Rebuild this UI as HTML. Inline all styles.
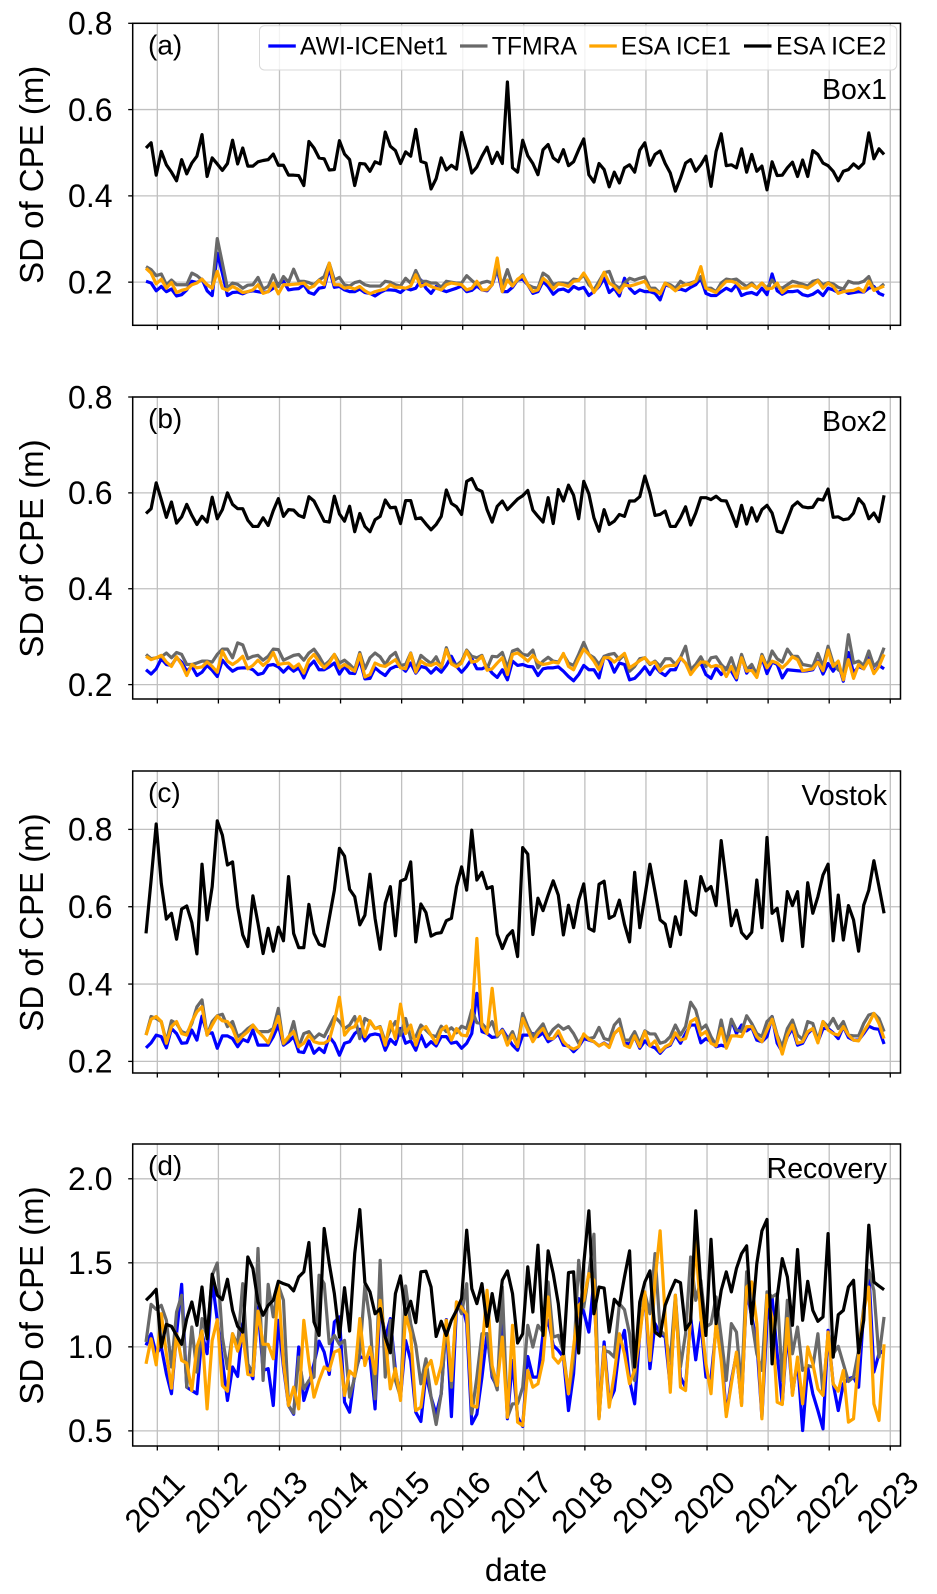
<!DOCTYPE html>
<html lang="en">
<head>
<meta charset="utf-8">
<title>SD of CPE time series</title>
<style>
html,body{margin:0;padding:0;background:#fff;}
svg{display:block;font-family:"Liberation Sans",Arial,sans-serif;}
</style>
</head>
<body>
<svg id="chart" xmlns="http://www.w3.org/2000/svg" width="937" height="1594" viewBox="0 0 937 1594"></svg>
<script>
const xTickLabels = [2011,2012,2013,2014,2015,2016,2017,2018,2019,2020,2021,2022,2023];
const firstMonthYear = 2010.815;
const yTicksA = [0.2,0.4,0.6,0.8];
const yTicksB = [0.2,0.4,0.6,0.8];
const yTicksC = [0.2,0.4,0.6,0.8];
const yTicksD = [0.5,1.0,1.5,2.0];

const boxOneAwi = [.202,.198,.180,.190,.178,.184,.168,.171,.182,.202,.199,.207,.180,.169,.267,.221,.169,.176,.177,.173,.178,.180,.178,.176,.178,.186,.196,.202,.182,.184,.185,.194,.176,.172,.186,.188,.232,.188,.190,.182,.178,.178,.184,.176,.174,.168,.176,.182,.182,.181,.176,.186,.182,.186,.205,.186,.174,.190,.182,.178,.182,.186,.191,.178,.181,.191,.182,.180,.194,.230,.178,.178,.188,.205,.207,.194,.174,.178,.202,.190,.172,.182,.184,.178,.190,.184,.188,.169,.178,.190,.209,.176,.186,.168,.209,.186,.174,.182,.178,.178,.174,.159,.194,.190,.182,.184,.180,.188,.194,.209,.174,.169,.169,.178,.186,.180,.194,.169,.174,.176,.171,.186,.171,.219,.180,.172,.178,.178,.180,.171,.168,.172,.180,.169,.186,.182,.176,.182,.174,.176,.178,.177,.186,.190,.174,.169];
const boxOneTfmra = [.236,.229,.215,.219,.194,.205,.194,.194,.194,.221,.215,.205,.194,.186,.301,.244,.186,.198,.195,.186,.193,.194,.211,.184,.190,.217,.190,.213,.200,.230,.202,.202,.199,.194,.205,.213,.244,.205,.211,.194,.191,.199,.202,.194,.191,.191,.191,.202,.200,.194,.191,.209,.198,.227,.202,.202,.198,.198,.188,.202,.200,.198,.198,.215,.204,.194,.199,.202,.198,.229,.194,.229,.194,.204,.217,.194,.188,.186,.221,.213,.194,.198,.198,.196,.207,.205,.217,.194,.182,.202,.222,.225,.194,.186,.198,.209,.205,.209,.212,.186,.186,.174,.198,.194,.186,.202,.194,.198,.202,.213,.186,.186,.178,.198,.207,.205,.207,.198,.190,.198,.186,.198,.186,.205,.190,.186,.194,.202,.199,.195,.191,.202,.205,.194,.199,.196,.188,.184,.202,.198,.198,.202,.213,.184,.186,.196];
const boxOneIce1 = [.232,.221,.196,.207,.186,.199,.176,.181,.184,.194,.198,.207,.194,.186,.225,.186,.181,.190,.184,.176,.178,.182,.194,.174,.178,.198,.173,.194,.194,.195,.196,.198,.186,.191,.204,.194,.244,.194,.194,.186,.188,.184,.190,.180,.173,.178,.181,.184,.194,.188,.188,.186,.191,.217,.190,.196,.190,.186,.182,.194,.198,.196,.194,.182,.186,.202,.182,.182,.194,.256,.178,.205,.191,.207,.215,.194,.178,.182,.209,.199,.184,.196,.194,.190,.202,.204,.221,.202,.176,.194,.223,.198,.190,.176,.194,.191,.194,.198,.202,.182,.181,.173,.198,.190,.180,.190,.194,.195,.202,.236,.186,.181,.176,.190,.202,.202,.198,.186,.186,.194,.186,.198,.184,.186,.198,.176,.186,.191,.191,.190,.186,.194,.203,.186,.198,.190,.174,.178,.180,.181,.186,.178,.202,.181,.186,.191];
const boxOneIce2 = [.511,.523,.448,.503,.472,.455,.435,.484,.451,.476,.492,.542,.445,.488,.474,.459,.475,.529,.474,.511,.469,.469,.479,.482,.484,.497,.471,.471,.448,.448,.447,.424,.526,.511,.488,.486,.460,.461,.528,.497,.484,.424,.475,.474,.457,.479,.474,.548,.515,.505,.475,.502,.492,.554,.480,.476,.416,.440,.488,.460,.471,.462,.547,.503,.453,.467,.492,.513,.475,.501,.475,.664,.465,.455,.529,.493,.475,.449,.507,.519,.488,.479,.507,.470,.479,.507,.532,.449,.432,.475,.461,.421,.455,.430,.465,.472,.455,.506,.523,.471,.496,.504,.475,.453,.411,.441,.476,.484,.457,.472,.492,.422,.503,.544,.470,.472,.465,.509,.455,.496,.457,.469,.414,.479,.447,.448,.465,.478,.445,.483,.445,.505,.496,.476,.470,.457,.435,.457,.461,.474,.464,.476,.546,.486,.509,.496];

const boxTwoAwi = [.231,.222,.233,.254,.242,.240,.256,.247,.228,.238,.219,.226,.240,.230,.217,.251,.238,.228,.234,.235,.235,.231,.221,.224,.240,.242,.237,.226,.237,.228,.235,.214,.238,.249,.231,.231,.237,.245,.222,.238,.224,.223,.252,.212,.213,.235,.226,.219,.233,.238,.238,.228,.245,.224,.238,.235,.224,.235,.226,.240,.259,.238,.226,.238,.254,.233,.233,.238,.224,.215,.231,.210,.249,.240,.242,.238,.237,.219,.233,.235,.235,.237,.228,.217,.208,.221,.240,.231,.231,.214,.259,.252,.226,.245,.242,.210,.213,.224,.237,.221,.238,.226,.219,.231,.231,.256,.245,.224,.238,.245,.221,.213,.235,.221,.235,.228,.210,.259,.224,.238,.217,.256,.223,.247,.242,.214,.231,.230,.229,.228,.229,.231,.249,.222,.244,.228,.245,.207,.267,.224,.238,.233,.265,.224,.240,.233];
const boxTwoTfmra = [.263,.254,.256,.258,.266,.256,.267,.263,.242,.242,.245,.249,.249,.247,.263,.274,.274,.256,.287,.283,.254,.259,.261,.251,.259,.274,.273,.251,.256,.261,.263,.251,.266,.274,.259,.240,.249,.263,.245,.251,.242,.231,.267,.233,.256,.266,.258,.242,.259,.267,.240,.242,.266,.231,.261,.252,.244,.258,.235,.277,.247,.240,.249,.272,.259,.256,.261,.233,.259,.258,.267,.235,.270,.274,.263,.261,.272,.235,.249,.257,.249,.247,.263,.245,.240,.263,.288,.263,.256,.242,.259,.263,.265,.252,.263,.228,.238,.254,.256,.242,.249,.238,.254,.254,.242,.256,.280,.231,.242,.258,.238,.256,.258,.242,.231,.256,.224,.263,.231,.242,.221,.263,.238,.270,.254,.247,.274,.259,.259,.242,.240,.238,.265,.238,.280,.245,.231,.224,.304,.245,.249,.240,.270,.238,.249,.277];
const boxTwoIce1 = [.259,.252,.256,.261,.247,.238,.258,.242,.219,.242,.235,.237,.247,.238,.226,.270,.249,.242,.249,.259,.233,.240,.251,.240,.249,.267,.242,.244,.245,.235,.243,.224,.252,.263,.247,.235,.245,.263,.235,.242,.235,.228,.263,.216,.221,.245,.240,.238,.245,.252,.235,.233,.265,.226,.249,.242,.240,.245,.237,.273,.243,.237,.245,.270,.247,.249,.259,.230,.233,.245,.256,.221,.263,.266,.258,.249,.261,.247,.242,.244,.247,.245,.265,.238,.231,.254,.274,.263,.249,.231,.256,.256,.247,.256,.265,.235,.242,.250,.256,.244,.247,.228,.238,.240,.240,.256,.245,.221,.235,.247,.247,.237,.240,.237,.217,.238,.214,.256,.228,.230,.215,.259,.235,.249,.245,.235,.245,.258,.252,.229,.231,.233,.247,.229,.272,.238,.249,.210,.252,.213,.242,.233,.251,.223,.238,.263];
const boxTwoIce2 = [.557,.567,.621,.586,.549,.581,.537,.550,.576,.553,.534,.551,.539,.591,.546,.565,.600,.576,.567,.567,.543,.530,.530,.548,.532,.563,.588,.551,.565,.564,.553,.549,.592,.583,.562,.541,.539,.593,.556,.541,.572,.519,.557,.530,.519,.544,.551,.585,.569,.570,.536,.584,.584,.546,.548,.535,.523,.534,.551,.606,.578,.571,.555,.624,.630,.608,.603,.565,.539,.572,.583,.565,.576,.587,.594,.605,.564,.551,.539,.590,.536,.607,.583,.616,.595,.546,.624,.598,.548,.520,.565,.534,.541,.555,.551,.583,.583,.592,.635,.600,.553,.555,.562,.530,.530,.548,.571,.533,.558,.590,.590,.586,.593,.584,.583,.558,.530,.574,.535,.569,.541,.565,.574,.558,.520,.517,.544,.572,.581,.571,.569,.570,.587,.585,.608,.549,.550,.544,.546,.558,.588,.576,.546,.558,.540,.595];

const vostokAwi = [.235,.248,.268,.264,.235,.285,.272,.247,.248,.281,.255,.317,.272,.274,.234,.266,.266,.259,.238,.257,.251,.281,.242,.242,.242,.264,.294,.242,.251,.264,.225,.223,.253,.221,.234,.223,.264,.247,.216,.247,.251,.272,.283,.253,.268,.271,.268,.229,.257,.244,.285,.247,.253,.229,.268,.238,.251,.240,.264,.264,.247,.250,.234,.247,.272,.376,.277,.272,.262,.264,.283,.262,.242,.229,.268,.268,.272,.264,.274,.251,.259,.272,.242,.240,.225,.238,.259,.255,.251,.240,.248,.238,.272,.285,.247,.245,.264,.234,.253,.240,.235,.221,.236,.242,.268,.247,.272,.294,.294,.248,.259,.251,.238,.242,.238,.307,.272,.294,.279,.288,.255,.251,.264,.316,.247,.225,.264,.285,.242,.247,.272,.285,.251,.285,.285,.274,.259,.290,.262,.255,.255,.272,.291,.285,.283,.245];
const vostokTfmra = [.268,.316,.311,.303,.251,.305,.298,.277,.272,.298,.341,.359,.268,.303,.318,.322,.290,.303,.264,.272,.285,.294,.277,.277,.277,.285,.337,.245,.259,.303,.238,.272,.277,.259,.271,.264,.290,.316,.303,.285,.294,.316,.259,.311,.303,.285,.290,.251,.281,.303,.268,.311,.259,.264,.294,.281,.268,.264,.291,.277,.287,.274,.291,.285,.333,.300,.298,.283,.303,.264,.281,.255,.277,.242,.324,.290,.264,.281,.297,.264,.283,.294,.283,.290,.272,.247,.268,.259,.262,.288,.259,.255,.294,.309,.255,.255,.277,.247,.279,.271,.271,.247,.251,.264,.294,.268,.290,.353,.333,.283,.294,.264,.242,.307,.247,.309,.281,.277,.318,.298,.272,.264,.303,.316,.268,.238,.285,.307,.268,.257,.303,.298,.255,.303,.290,.311,.285,.303,.268,.266,.266,.298,.320,.324,.311,.277];
const vostokIce1 = [.268,.309,.316,.303,.247,.290,.303,.272,.268,.303,.328,.341,.268,.294,.317,.305,.303,.285,.251,.266,.277,.294,.277,.264,.248,.281,.316,.247,.264,.277,.238,.247,.268,.251,.247,.247,.255,.303,.366,.268,.285,.290,.316,.264,.305,.285,.288,.242,.303,.259,.348,.272,.294,.242,.281,.290,.268,.247,.281,.291,.255,.285,.268,.266,.307,.518,.290,.272,.389,.268,.279,.242,.268,.238,.311,.281,.251,.272,.285,.259,.259,.279,.251,.238,.232,.238,.271,.257,.251,.240,.247,.236,.272,.285,.242,.236,.266,.238,.277,.240,.253,.225,.238,.245,.274,.255,.259,.303,.311,.268,.277,.247,.240,.285,.234,.266,.266,.264,.290,.290,.264,.251,.281,.309,.264,.219,.268,.294,.247,.251,.277,.285,.248,.303,.281,.272,.268,.290,.268,.255,.253,.277,.298,.324,.298,.259];
const vostokIce2 = [.531,.669,.814,.660,.568,.583,.516,.594,.602,.559,.478,.710,.566,.652,.822,.785,.708,.716,.600,.527,.497,.628,.557,.479,.544,.485,.547,.512,.678,.531,.494,.494,.606,.531,.503,.498,.570,.643,.751,.731,.645,.626,.553,.578,.684,.570,.490,.609,.652,.525,.666,.672,.716,.509,.607,.585,.524,.531,.533,.564,.570,.652,.703,.643,.798,.669,.689,.647,.652,.529,.492,.524,.538,.471,.753,.736,.528,.622,.590,.630,.667,.630,.527,.604,.546,.617,.659,.544,.537,.658,.666,.570,.577,.617,.555,.509,.689,.546,.626,.710,.639,.566,.555,.497,.574,.528,.666,.590,.578,.678,.641,.652,.603,.771,.665,.551,.591,.533,.518,.534,.669,.546,.779,.583,.596,.512,.639,.603,.639,.497,.662,.583,.626,.682,.710,.512,.630,.514,.603,.566,.485,.604,.643,.719,.652,.583];

const recoveryAwi = [1.009,1.078,.959,.999,.840,.721,1.078,1.372,.760,.740,.721,1.078,.959,1.396,1.158,.919,.681,.880,.824,1.138,.880,.810,1.237,.860,.870,.651,1.158,.880,.651,.599,.999,.681,.780,.899,1.034,.969,.836,1.148,1.178,.671,.611,.840,.943,.929,.939,.631,1.267,1.048,1.168,.860,.701,1.038,.919,.611,.556,.840,.701,.599,.721,1.162,.585,1.237,1.267,1.138,.542,.599,.820,1.078,.820,.760,1.217,.572,.919,.581,.526,.943,.820,.820,1.078,1.158,1.009,.979,.939,.621,.840,1.287,1.207,1.088,1.396,.581,1.029,.671,.740,.999,1.098,.800,.661,1.078,1.317,.870,1.138,1.078,1.058,.760,1.297,.820,.760,1.178,.923,1.148,.820,.810,1.118,.979,.599,.800,.959,.661,1.336,1.178,1.029,.581,1.158,1.297,.959,.661,1.098,.721,.919,.502,.880,.721,.621,.512,1.098,.780,.621,.780,.810,.820,.760,1.217,1.452,.850,.959,.979];
const recoveryTfmra = [1.029,1.253,1.223,1.247,1.158,.880,1.207,1.307,.760,1.118,.850,1.168,1.058,1.426,1.499,1.058,.870,1.078,1.009,1.376,.899,.840,1.585,.800,1.372,1.178,1.366,1.277,.651,.605,.939,.750,.800,.820,1.426,1.376,1.019,1.068,1.015,1.038,.701,.820,.959,1.366,1.158,.691,1.515,.820,1.158,.800,.701,1.362,1.138,1.009,.780,.929,.701,.538,.721,1.158,.760,1.267,1.197,1.376,.601,.820,1.078,1.078,.840,.744,1.356,.581,.661,.661,.760,1.128,.999,1.128,1.088,1.386,1.058,1.068,.969,.721,.919,1.515,1.237,1.436,1.670,.581,.979,.969,.939,1.257,1.221,1.078,.800,1.237,1.317,1.197,1.555,1.098,1.068,.919,1.307,.880,1.078,1.535,1.277,1.396,1.118,1.138,1.297,1.058,.800,1.138,1.088,.760,1.446,1.158,.959,.860,1.327,1.297,1.317,.800,1.277,.959,1.118,.860,.889,.880,1.078,.721,1.078,.959,1.003,.899,.794,.820,.979,1.237,1.456,1.336,.939,1.178];
const recoveryIce1 = [.899,1.048,.893,1.197,.959,.754,1.078,.919,.903,.740,.999,1.094,.631,1.038,1.162,.770,.736,1.078,.975,1.078,.836,.830,1.213,1.015,1.015,.929,1.366,.909,.651,.760,.631,1.158,.909,.701,.800,.880,.860,.969,.983,.711,.856,.826,1.168,.889,.999,.840,1.277,1.048,.750,.870,.681,1.197,1.078,.621,.641,.870,.919,.780,.889,1.158,.800,1.267,1.233,1.193,.651,.641,.979,1.336,.889,.770,1.058,.581,1.128,.552,.532,.860,.760,.780,.919,1.297,.939,.903,.949,.721,.999,1.247,1.277,1.436,1.396,.572,.999,.641,.840,1.078,.959,.780,.860,1.058,1.327,.919,1.396,1.690,1.178,.730,1.307,.760,.740,1.178,1.625,1.178,.899,.721,1.148,.919,.585,.780,.969,.651,1.356,1.386,1.138,.572,1.307,1.178,.671,.657,1.168,.711,.939,.661,.999,.899,.750,.711,1.088,.780,.736,.860,.552,.572,.939,1.217,1.356,.661,.562,1.015];
const recoveryIce2 = [1.277,1.307,1.342,.999,1.134,1.122,1.068,1.015,1.168,1.267,1.128,1.356,1.048,1.432,1.307,1.281,1.402,1.217,1.122,1.088,1.535,1.466,1.267,1.188,1.247,1.277,1.390,1.376,1.366,1.333,1.416,1.446,1.621,1.148,1.068,1.704,1.495,1.317,1.058,1.352,1.094,1.555,1.817,1.382,1.327,1.197,1.227,1.058,.965,1.317,1.422,1.193,1.271,1.144,1.446,1.450,1.356,1.062,1.152,1.068,1.158,1.217,1.287,1.694,1.346,1.257,1.376,1.122,1.317,1.152,1.396,1.452,1.317,1.023,1.078,1.476,1.207,1.605,1.068,1.571,1.436,1.257,.959,1.442,1.446,.963,1.495,1.809,1.197,1.356,1.350,1.088,1.283,1.247,1.416,1.571,.880,1.267,1.386,1.452,1.088,1.064,1.247,1.327,1.396,1.382,1.102,1.148,1.809,1.356,1.068,1.640,1.138,1.336,1.446,1.327,1.466,1.555,1.601,1.138,1.495,1.690,1.758,.899,1.297,1.525,1.416,1.128,1.579,1.158,1.390,1.217,1.152,1.178,1.674,.939,1.191,1.217,1.356,1.396,.965,1.158,1.724,1.386,1.362,1.340];

const panels = [
  {key:'a', tag:'(a)', site:'Box1', siteBase:99, tagBase:54.5, top:23.3, dom:[0.1,0.8], ticks:yTicksA, fmt:1, s:[boxOneAwi,boxOneTfmra,boxOneIce1,boxOneIce2]},
  {key:'b', tag:'(b)', site:'Box2', siteBase:431, tagBase:428, top:397, dom:[0.17,0.8], ticks:yTicksB, fmt:1, s:[boxTwoAwi,boxTwoTfmra,boxTwoIce1,boxTwoIce2]},
  {key:'c', tag:'(c)', site:'Vostok', siteBase:805, tagBase:802, top:771, dom:[0.17,0.951], ticks:yTicksC, fmt:1, s:[vostokAwi,vostokTfmra,vostokIce1,vostokIce2]},
  {key:'d', tag:'(d)', site:'Recovery', siteBase:1178, tagBase:1175, top:1144, dom:[0.41,2.207], ticks:yTicksD, fmt:1, s:[recoveryAwi,recoveryTfmra,recoveryIce1,recoveryIce2]}
];
const seriesNames = ['AWI-ICENet1','TFMRA','ESA ICE1','ESA ICE2'];
const seriesColors = ['#0000ff','#696969','#ffa500','#000000'];

const NS = 'http://www.w3.org/2000/svg';
const root = document.getElementById('chart');
const LEFT = 132.7, RIGHT = 900.5, HEIGHT = 302;
const yearMin = 2010.597, pxPerYear = 61.08;
function xScale(year){ return LEFT + (year - yearMin) * pxPerYear; }
function yScale(p, v){ return p.top + (p.dom[1] - v) / (p.dom[1] - p.dom[0]) * HEIGHT; }
function mk(tag, parent, attrs){
  const e = document.createElementNS(NS, tag);
  for (const k in attrs) e.setAttribute(k, attrs[k]);
  parent.appendChild(e);
  return e;
}

panels.forEach(function(p){
  const g = mk('g', root, {});
  
  
  const bottom = p.top + HEIGHT;

  xTickLabels.forEach(function(yr){
    const x = xScale(yr);
    const gl = mk('line', g, {x1:x, x2:x, y1:p.top, y2:bottom, stroke:'#c0c0c0', 'stroke-width':1.3});
    
    
    const t = mk('line', g, {x1:x, x2:x, y1:bottom, y2:bottom + 4.5, stroke:'#000', 'stroke-width':1.3});
    
    
  });

  p.ticks.forEach(function(v){
    const y = yScale(p, v);
    const gl = mk('line', g, {x1:LEFT, x2:RIGHT, y1:y, y2:y, stroke:'#c0c0c0', 'stroke-width':1.3});
    
    
    const t = mk('line', g, {x1:LEFT - 4.5, x2:LEFT, y1:y, y2:y, stroke:'#000', 'stroke-width':1.3});
    
    
    const lb = mk('text', g, {x:112.5, y:y + 11.3, 'text-anchor':'end', 'font-size':32, fill:'#000'});
    lb.textContent = v.toFixed(p.fmt);
    
    
  });

  p.s.forEach(function(vals, si){
    const pts = vals.map(function(v, i){
      return xScale(firstMonthYear + i / 12).toFixed(2) + ',' + yScale(p, v).toFixed(2);
    }).join(' ');
    const line = mk('polyline', g, {points:pts, fill:'none', stroke:seriesColors[si], 'stroke-width':3.2, 'stroke-linejoin':'round', 'stroke-linecap':'butt'});
    
    
  });

  const frame = mk('rect', g, {x:LEFT, y:p.top, width:RIGHT - LEFT, height:HEIGHT, fill:'none', stroke:'#000', 'stroke-width':1.5});
  
  

  const tag = mk('text', g, {x:148, y:p.tagBase, 'font-size':28, fill:'#000'});
  tag.textContent = p.tag;
  
  

  const site = mk('text', g, {x:887, y:p.siteBase, 'text-anchor':'end', 'font-size':28.5, fill:'#000'});
  site.textContent = p.site;
  
  

  const cy = p.top + HEIGHT / 2 + 0.5;
  const yl = mk('text', g, {x:43, y:cy, 'text-anchor':'middle', 'font-size':33, fill:'#000', transform:'rotate(-90 43 ' + cy + ')'});
  yl.textContent = 'SD of CPE (m)';
  
  
});

xTickLabels.forEach(function(yr){
  const cx = xScale(yr) - 2.8, cy = 1502;
  const t = mk('text', root, {x:cx, y:cy + 11, 'text-anchor':'middle', 'font-size':32, fill:'#000', transform:'rotate(-45 ' + cx + ' ' + cy + ')'});
  t.textContent = String(yr);
  
  
});

const xTitle = mk('text', root, {x:516, y:1581, 'text-anchor':'middle', 'font-size':32, fill:'#000'});
xTitle.textContent = 'date';



const legend = mk('g', root, {});


const legendBox = mk('rect', legend, {x:259.5, y:25.7, width:637.2, height:44.3, rx:5, ry:5, fill:'#fff', 'fill-opacity':0.8, stroke:'#d8d8d8', 'stroke-width':1});


const legendLineStart = [268.3, 460, 589.3, 744];
const legendTextStart = [300, 491.7, 620.7, 776];
seriesNames.forEach(function(n, i){
  const l = mk('line', legend, {x1:legendLineStart[i], x2:legendLineStart[i] + 27.5, y1:46, y2:46, stroke:seriesColors[i], 'stroke-width':3.2});
  
  
  const t = mk('text', legend, {x:legendTextStart[i], y:54.5, 'font-size':24.8, fill:'#000'});
  t.textContent = n;
  
  
});
</script>
</body>
</html>
